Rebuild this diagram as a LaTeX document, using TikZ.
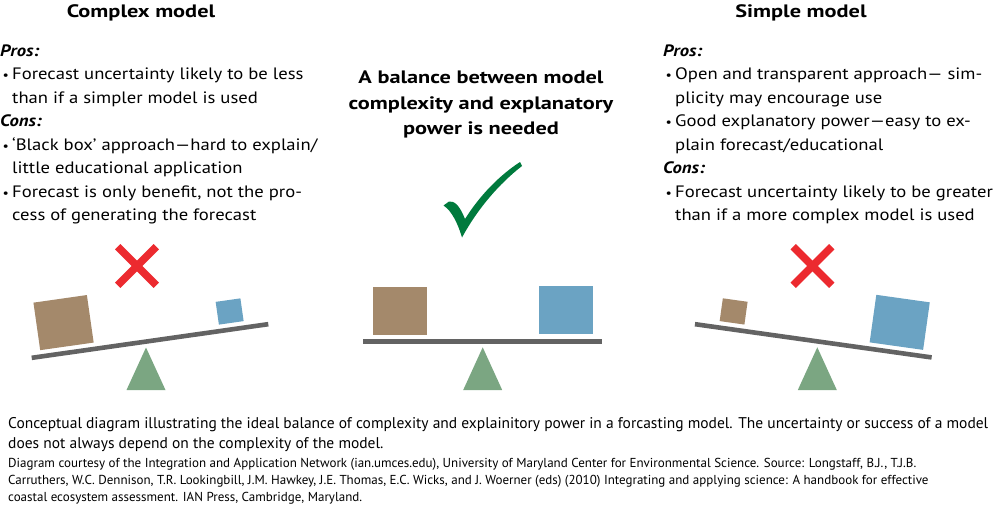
\documentclass[tikz,border=0pt]{standalone}
\usepackage{fontspec}
\setmainfont{PT Sans}[FakeStretch=1.13]
\newfontfamily\headfont[FakeStretch=1.24]{PT Sans}
\newfontfamily\notefont{PT Sans}
\definecolor{boxbrown}{HTML}{A4896B}
\definecolor{boxblue}{HTML}{6BA3C3}
\definecolor{pivotgreen}{HTML}{7BA682}
\definecolor{beamgray}{HTML}{636363}
\definecolor{crossred}{HTML}{EC2A2F}
\definecolor{tickgreen}{HTML}{007A3D}
\newcommand\bul{\makebox[12pt][l]{\hspace{2.5pt}\scalebox{0.75}{\textbullet}}}
\newcommand\cnt{\hspace*{12pt}}
\begin{document}
\begin{tikzpicture}[x=1pt,y=-1pt,
	heading/.style={font=\headfont\fontsize{18}{20}\selectfont\bfseries,inner sep=0pt},
	block/.style={font=\fontsize{16.5}{23.5}\selectfont,align=left,inner sep=0pt,anchor=north west},
	note/.style={font=\notefont\fontsize{15.5}{20}\selectfont,align=left,inner sep=0pt,anchor=north west},
	credit/.style={font=\notefont\fontsize{13}{17}\selectfont,align=left,inner sep=0pt,anchor=north west},
	beam/.style={fill=beamgray,minimum width=239pt,minimum height=4.6pt,inner sep=0pt},
	bigbox/.style={minimum width=54pt,minimum height=48pt,inner sep=0pt},
	smallbox/.style={minimum width=25pt,minimum height=23pt,inner sep=0pt},
	pivot/.style={fill=pivotgreen},
	cross/.style={draw=crossred,line width=7.5pt}]
	
	\useasboundingbox (0,0) rectangle (1000,504);
	
	% headings
	\node[heading,anchor=base] (complex) at (141,17.5) {Complex model};
	\node[heading,anchor=base] (simple) at (801,17.5) {Simple model};
	\node[heading,align=center,anchor=north,font=\headfont\fontsize{18}{25.5}\selectfont\bfseries] (balance) at (481,71) {A balance between model\\complexity and explanatory\\power is needed};
	
	% pros and cons
	\node[block] (complexlist) at (0,44.5) {\textbf{\textit{Pros:}}\\
		\bul Forecast uncertainty likely to be less\\
		\cnt than if a simpler model is used\\
		\textbf{\textit{Cons:}}\\
		\bul ‘Black box’ approach—hard to explain/\\
		\cnt little educational application\\
		\bul Forecast is only benefit, not the pro-\\
		\cnt cess of generating the forecast};
	\node[block] (simplelist) at (663,44.5) {\textbf{\textit{Pros:}}\\
		\bul Open and transparent approach— sim-\\
		\cnt plicity may encourage use\\
		\bul Good explanatory power—easy to ex-\\
		\cnt plain forecast/educational\\
		\textbf{\textit{Cons:}}\\
		\bul Forecast uncertainty likely to be greater\\
		\cnt than if a more complex model is used};
	
	% verdicts
	\coordinate (lx) at (137,266);
	\coordinate (rx) at (812.5,266);
	\draw[cross] ([shift={(-19.3,-19.3)}]lx) -- ([shift={(19.3,19.3)}]lx);
	\draw[cross] ([shift={(19.3,-19.3)}]lx) -- ([shift={(-19.3,19.3)}]lx);
	\draw[cross] ([shift={(-19.3,-19.3)}]rx) -- ([shift={(19.3,19.3)}]rx);
	\draw[cross] ([shift={(19.3,-19.3)}]rx) -- ([shift={(-19.3,19.3)}]rx);
	\fill[tickgreen] (443.5,205.5) -- (449,201.5) .. controls (454,201) and (459,204) .. (465,219)
		.. controls (480,195) and (500,175) .. (520,162) -- (522,166)
		.. controls (500,183) and (478,208) .. (462,237.5)
		.. controls (458,224) and (452,211) .. cycle;
	
	% seesaws
	\begin{scope}[shift={(150,341)},rotate=8.1,transform shape]
		\node[beam] (lbeam) at (0,0) {};
		\node[bigbox,fill=boxbrown] (lheavy) at (-83,-30.4) {};
		\node[smallbox,fill=boxblue] (llight) at (83,-18) {};
	\end{scope}
	\fill[pivot] (146,347.5) -- (126.5,390) -- (165.5,390) -- cycle;
	
	\node[beam] (mbeam) at (482.8,341.3) {};
	\node[bigbox,fill=boxbrown] (mleft) at (400,310.5) {};
	\node[bigbox,fill=boxblue] (mright) at (566,310.3) {};
	\fill[pivot] (482.7,347.3) -- (463.2,390) -- (502.2,390) -- cycle;
	
	\begin{scope}[shift={(813.3,340.8)},rotate=-8,transform shape]
		\node[beam] (rbeam) at (0,0) {};
		\node[smallbox,fill=boxbrown] (rlight) at (-83,-18) {};
		\node[bigbox,fill=boxblue] (rheavy) at (83,-30.3) {};
	\end{scope}
	\fill[pivot] (817.3,347.3) -- (797.8,390) -- (836.8,390) -- cycle;
	
	% caption
	\node[note] (caption) at (8,417.6) {Conceptual diagram illustrating the ideal balance of complexity and explainitory power in a forcasting model. The uncertainty or success of a model\\
		does not always depend on the complexity of the model.};
	\node[credit] (source) at (8,458) {Diagram courtesy of the Integration and Application Network (ian.umces.edu), University of Maryland Center for Environmental Science. Source: Longstaff, B.J., T.J.B.\\
		Carruthers, W.C. Dennison, T.R. Lookingbill, J.M. Hawkey, J.E. Thomas, E.C. Wicks, and J. Woerner (eds) (2010) Integrating and applying science: A handbook for effective\\
		coastal ecosystem assessment. IAN Press, Cambridge, Maryland.};
\end{tikzpicture}
\end{document}
